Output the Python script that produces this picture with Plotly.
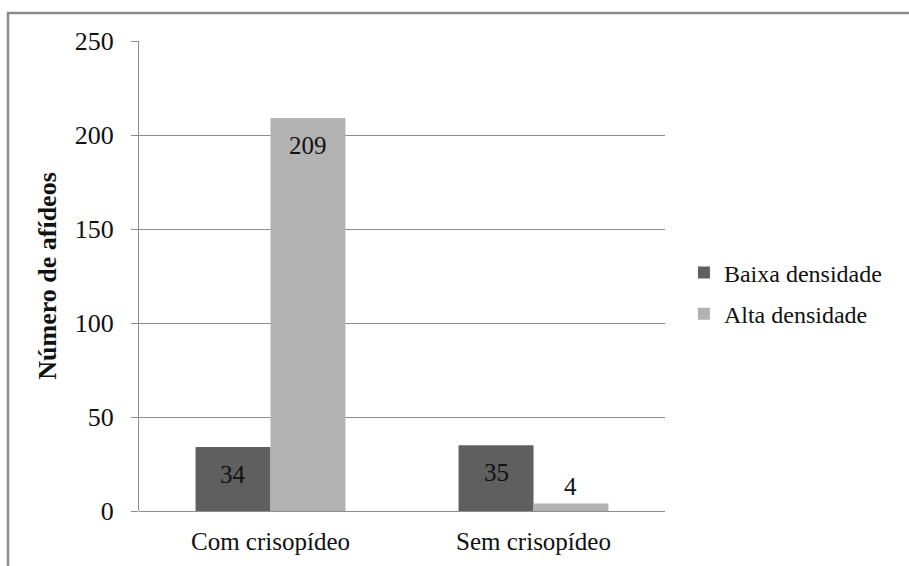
import plotly.graph_objects as go

categories = ["Com crisopídeo", "Sem crisopídeo"]
baixa = [34, 35]
alta = [209, 4]
series_names = ["Baixa densidade", "Alta densidade"]
colors = ["#5f5f5f", "#b2b2b2"]
y_ticks = [0, 50, 100, 150, 200, 250]

FONT = "Tinos"

fig = go.Figure()
for name, vals, col, grp in [(series_names[0], baixa, colors[0], "a"), (series_names[1], alta, colors[1], "b")]:
    fig.add_trace(go.Bar(
        x=categories, y=vals, name=name, marker=dict(color=col, line=dict(width=0)),
        legendgroup=grp,
    ))

# data labels ("inside end" style; short bars get the label above)
W = 526
bar_px = W / 2 * (1 - 0.43) / 2
for vals, sign in [(baixa, -1), (alta, 1)]:
    for cat, v in zip(categories, vals):
        inside = v > 20
        fig.add_annotation(
            x=cat, y=v, text=str(v), showarrow=False,
            xshift=sign * bar_px / 2,
            yanchor="top" if inside else "bottom",
            yshift=-12 if inside else 1,
            font=dict(family=FONT, size=25, color="#111"),
        )

fig.update_layout(
    width=909, height=566,
    margin=dict(l=139, r=244, t=41, b=55),
    paper_bgcolor="white", plot_bgcolor="white",
    barmode="group", bargap=0.43, bargroupgap=0,
    font=dict(family=FONT, color="#111"),
    showlegend=True,
    legend=dict(
        x=1.036, xanchor="left", y=0.463, yanchor="middle",
        font=dict(family=FONT, size=24, color="#111"),
        tracegroupgap=7, bgcolor="rgba(0,0,0,0)",
    ),
    xaxis=dict(
        showgrid=False, ticks="", showline=False, zeroline=False,
        tickfont=dict(family=FONT, size=25, color="#111"),
        ticklabelstandoff=13,
    ),
    yaxis=dict(
        range=[0, 250], tickvals=y_ticks, showgrid=True, gridcolor="#8c8c8c", gridwidth=1,
        showline=True, linecolor="#8c8c8c", linewidth=1,
        ticks="outside", ticklen=7, tickcolor="#8c8c8c",
        zeroline=True, zerolinecolor="#8c8c8c", zerolinewidth=1,
        tickfont=dict(family=FONT, size=26, color="#111"),
        ticklabelstandoff=12,
        title=dict(text="<b>Número de afídeos</b>", standoff=10,
                   font=dict(family=FONT, size=26, color="#111")),
    ),
)

# outer chart border (cropped at right and bottom in the reference)
fig.add_shape(type="rect", xref="paper", yref="paper",
              x0=(8 - 139) / 526, x1=(912 - 139) / 526,
              y0=(511 - 572) / 470, y1=(511 - 13) / 470,
              line=dict(color="#8a8a8a", width=2.5), fillcolor="rgba(0,0,0,0)",
              layer="below")

fig.write_html("out.html")
